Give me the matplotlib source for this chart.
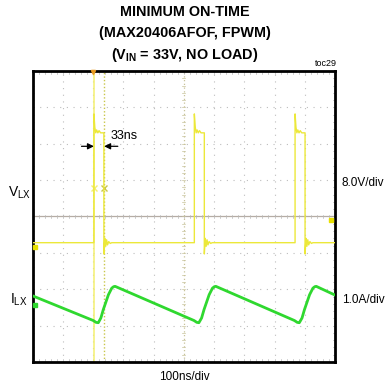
import matplotlib
matplotlib.use("Agg")
import matplotlib.pyplot as plt
from matplotlib import font_manager

# fonte estreita tipo Arial Narrow, se existir
nomes = set(f.name for f in font_manager.fontManager.ttflist)
NARROW = "Liberation Sans Narrow" if "Liberation Sans Narrow" in nomes else "Liberation Sans"
REG = "Liberation Sans"
TAM_TITULO = 11 if NARROW == "Liberation Sans Narrow" else 10.4

vlx_x = [0, 2.03, 2.03, 2.06, 2.09, 2.12, 2.16, 2.20, 2.25, 2.36, 2.36, 2.39, 2.42, 2.45, 2.48, 2.52, 2.57, 2.62,
         5.35, 5.35, 5.38, 5.41, 5.44, 5.48, 5.52, 5.57, 5.68, 5.68, 5.71, 5.74, 5.77, 5.80, 5.84, 5.89, 5.94,
         8.68, 8.68, 8.71, 8.74, 8.77, 8.81, 8.85, 8.90, 9.01, 9.01, 9.04, 9.07, 9.10, 9.13, 9.17, 9.22, 9.27, 10]
vlx_y = [3.28, 3.28, 6.82, 6.45, 6.30, 6.38, 6.30, 6.36, 6.30, 6.30, 2.97, 3.40, 3.18, 3.36, 3.22, 3.31, 3.26, 3.28,
         3.28, 6.82, 6.45, 6.30, 6.38, 6.30, 6.36, 6.30, 6.30, 2.97, 3.40, 3.18, 3.36, 3.22, 3.31, 3.26, 3.28,
         3.28, 6.82, 6.45, 6.30, 6.38, 6.30, 6.36, 6.30, 6.30, 2.97, 3.40, 3.18, 3.36, 3.22, 3.31, 3.26, 3.28, 3.28]

ilx_x = [0, 2.01, 2.10, 2.175, 2.26, 2.34, 2.51, 2.62, 2.68, 2.73,
         5.34, 5.43, 5.50, 5.59, 5.67, 5.84, 5.95, 6.01, 6.06,
         8.66, 8.75, 8.82, 8.91, 8.99, 9.16, 9.27, 9.33, 9.38, 10]
ilx_y = [1.82, 1.14, 1.09, 1.08, 1.21, 1.44, 1.85, 2.03, 2.07, 2.08,
         1.14, 1.09, 1.08, 1.21, 1.44, 1.85, 2.03, 2.07, 2.08,
         1.14, 1.09, 1.08, 1.21, 1.44, 1.85, 2.03, 2.07, 2.08, 1.84]

cursor_a = 2.03
cursor_b = 2.37
cursor_marca_y = 4.79

AMARELO = "#ece83a"
VERDE = "#2fd82f"
GRADE = "#bdbdbd"
MARCA = "#b8b8b8"

W, H = 387, 391
fig = plt.figure(figsize=(W / 100, H / 100), dpi=100)
ax = fig.add_axes([32.5 / W, (H - 362) / H, (335 - 32.5) / W, (362 - 71) / H])
ax.set_xlim(0, 10)
ax.set_ylim(0, 8)

# grade pontilhada
for i in range(1, 10):
    if i != 5:
        ax.axvline(i, color=GRADE, lw=0.8, ls=(0, (1, 5)), zorder=1)
for j in range(1, 8):
    if j != 4:
        ax.axhline(j, color=GRADE, lw=0.8, ls=(0, (1, 5)), zorder=1)
ax.axhline(4, color="#b5aca4", lw=0.9, zorder=1)
ax.axvline(5, color="#c8c39a", lw=0.9, ls=(0, (1, 2)), zorder=1)

# marquinhas de 0.2 div nas bordas e linhas centrais
for k in range(51):
    x = k * 0.2
    ax.plot([x, x], [8, 7.93], color=MARCA, lw=0.5, zorder=1)
    ax.plot([x, x], [0, 0.07], color=MARCA, lw=0.5, zorder=1)
    ax.plot([x, x], [3.96, 4.04], color=MARCA, lw=0.5, zorder=1)
for k in range(41):
    y = k * 0.2
    ax.plot([0, 0.06], [y, y], color=MARCA, lw=0.5, zorder=1)
    ax.plot([9.94, 10], [y, y], color=MARCA, lw=0.5, zorder=1)
    ax.plot([4.95, 5.05], [y, y], color="#c8c39a", lw=0.5, zorder=1)

# cursores
ax.axvline(cursor_a, color="#f4f070", lw=1.1, zorder=2)
ax.axvline(cursor_b, color="#c9c64a", lw=1.0, ls=(0, (1, 1.5)), zorder=2)
ax.plot([cursor_a], [cursor_marca_y], marker="x", ms=5, mew=1, color="#f4f070", zorder=3)
ax.plot([cursor_b], [cursor_marca_y], marker="x", ms=5, mew=1, color="#c9c64a", zorder=3)

# tracos
ax.plot(vlx_x, vlx_y, color=AMARELO, lw=1.0, zorder=4)
ax.plot(ilx_x, ilx_y, color=VERDE, lw=2.0, zorder=5)

# marcadores do osciloscopio
ax.plot([0.08], [3.15], marker="s", ms=2.5, color="#e8e000", clip_on=False, zorder=6)
ax.plot([0.08], [1.58], marker="s", ms=2.5, color=VERDE, clip_on=False, zorder=6)
ax.plot([9.88], [3.90], marker="s", ms=2.5, color="#e8e000", clip_on=False, zorder=6)
ax.plot([2.01], [7.97], marker="v", ms=3, color="#e89a20", clip_on=False, zorder=6)

# seta do tempo minimo
ax.annotate("", xy=(cursor_a, 5.93), xytext=(1.62, 5.93),
            arrowprops=dict(arrowstyle="-|>", color="black", lw=0.9, mutation_scale=9,
                            shrinkA=0, shrinkB=0), zorder=7)
ax.annotate("", xy=(cursor_b, 5.93), xytext=(2.82, 5.93),
            arrowprops=dict(arrowstyle="-|>", color="black", lw=0.9, mutation_scale=9,
                            shrinkA=0, shrinkB=0), zorder=7)
ax.text(2.58, 6.22, "33ns", fontsize=9, family=REG, va="center", ha="left", zorder=7)

ax.set_xticks([])
ax.set_yticks([])
for s in ax.spines.values():
    s.set_linewidth(2)
    s.set_color("black")

# textos
fig.text(185 / W, 1 - 12 / H, "MINIMUM ON-TIME", ha="center", va="center",
         fontsize=TAM_TITULO, fontweight="bold", family=NARROW)
fig.text(185 / W, 1 - 33 / H, "(MAX20406AFOF, FPWM)", ha="center", va="center",
         fontsize=TAM_TITULO, fontweight="bold", family=NARROW)
fig.text(185 / W, 1 - 55 / H, r"(V$_\mathregular{IN}$ = 33V, NO LOAD)", ha="center", va="center",
         fontsize=TAM_TITULO, fontweight="bold", family=NARROW)
fig.text(337 / W, 1 - 63 / H, "toc29", ha="right", va="center", fontsize=6.5, family=REG)

fig.text(8 / W, 1 - 193 / H, r"V$_\mathregular{LX}$", ha="left", va="center", fontsize=10, family=NARROW)
fig.text(10 / W, 1 - 300 / H, r"I$_\mathregular{LX}$", ha="left", va="center", fontsize=10, family=NARROW)
fig.text(342 / W, 1 - 183 / H, "8.0V/div", ha="left", va="center", fontsize=8.5, family=REG)
fig.text(342 / W, 1 - 300 / H, "1.0A/div", ha="left", va="center", fontsize=8.5, family=REG)
fig.text(184 / W, 1 - 377 / H, "100ns/div", ha="center", va="center", fontsize=8.5, family=REG)

fig.savefig("out.png", dpi=100)
